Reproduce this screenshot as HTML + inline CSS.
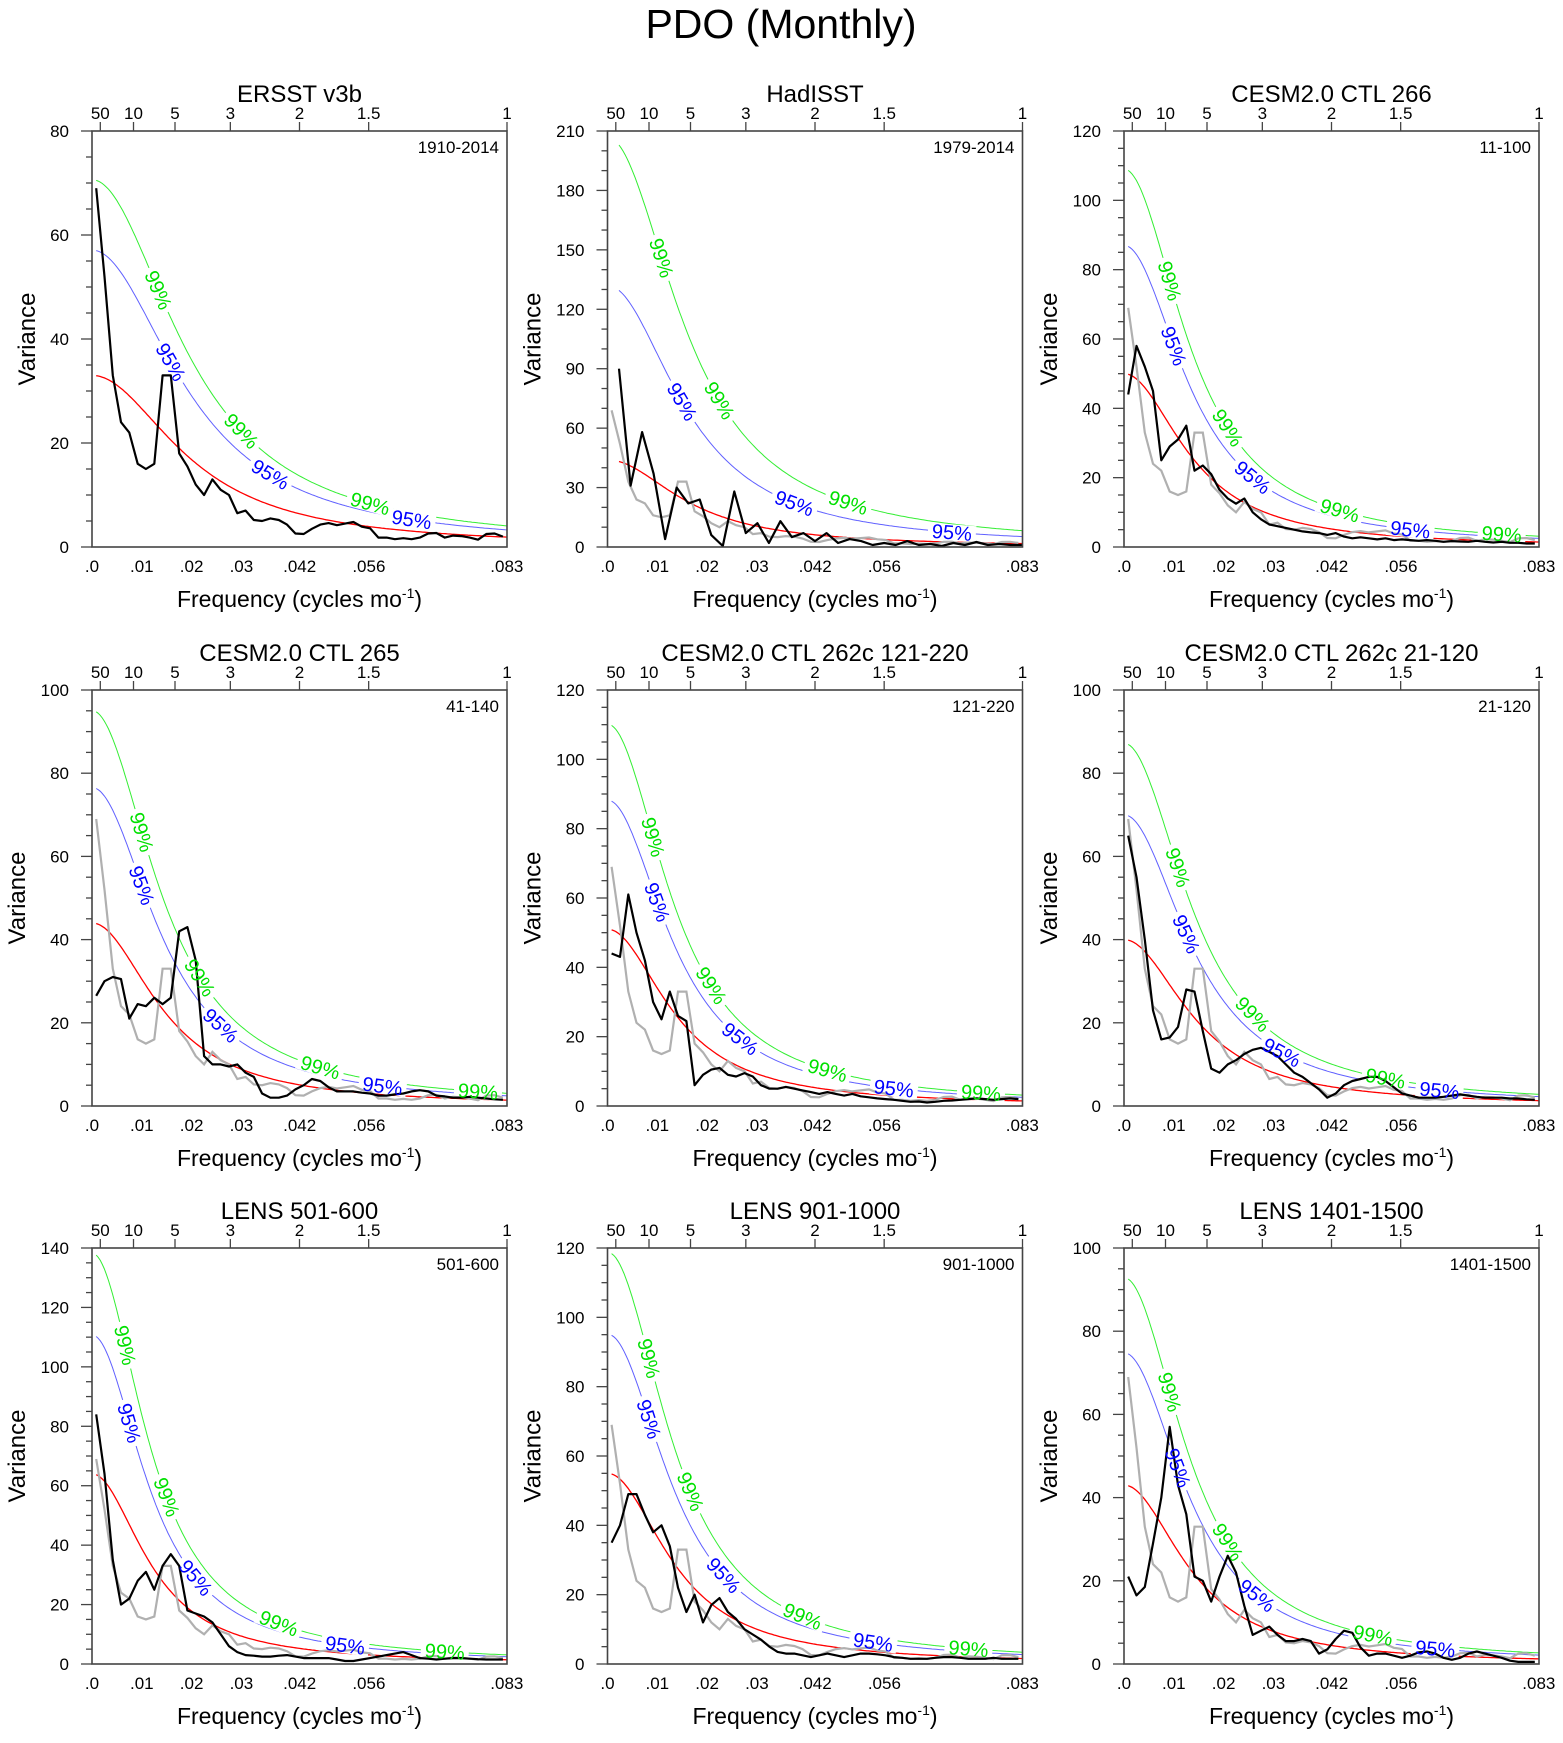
<!DOCTYPE html>
<html><head><meta charset="utf-8"><style>
html,body{margin:0;padding:0;background:#fff;}
svg text{font-family:"Liberation Sans",sans-serif;}
</style></head><body>
<svg id="fig" width="1563" height="1738" viewBox="0 0 1563 1738" xmlns="http://www.w3.org/2000/svg">
<rect width="1563" height="1738" fill="#fff"/>
<text x="781" y="38" font-size="41" text-anchor="middle">PDO (Monthly)</text>
</svg>
<script>
// ---------- data ----------
const panelTitles = ["ERSST v3b","HadISST","CESM2.0 CTL 266","CESM2.0 CTL 265","CESM2.0 CTL 262c 121-220","CESM2.0 CTL 262c 21-120","LENS 501-600","LENS 901-1000","LENS 1401-1500"];
const periodLabels = ["1910-2014","1979-2014","11-100","41-140","121-220","21-120","501-600","901-1000","1401-1500"];
const yMax = [80,210,120,100,120,100,140,120,100];
const yMajor = [20,30,20,20,20,20,20,20,20];
const yMinor = [5,10,5,5,5,5,5,5,5];
const redNoiseS0 = [33,44,50,44,51,40,64,55,43];
const redNoiseR = [0.88,0.9,0.915,0.91,0.915,0.91,0.925,0.915,0.915];
const mult95 = [1.73,3.0,1.74,1.74,1.73,1.75,1.73,1.73,1.74];
const mult99 = [2.14,4.7,2.18,2.16,2.16,2.18,2.16,2.16,2.16];
const xTickVals = [0,0.01,0.02,0.03,0.0417,0.0556,0.0833];
const xTickLabels = [".0",".01",".02",".03",".042",".056",".083"];
const topPeriods = [50,10,5,3,2,1.5,1];
const topPeriodLabels = ["50","10","5","3","2","1.5","1"];
const lab99 = [[.16,.36,.67],[.13,.27,.58],[.11,.25,.52,.91],[.12,.26,.55,.93],[.11,.25,.53,.9],[.13,.31,.63],[.08,.18,.45,.85],[.1,.2,.47,.87],[.11,.25,.6]];
const lab95 = [[.19,.43,.77],[.18,.45,.83],[.12,.31,.69],[.12,.31,.7],[.12,.32,.69],[.15,.38,.76],[.09,.25,.61],[.1,.28,.64],[.13,.32,.75]];
// spectra on 50-point frequency grid (cycles/mo), HadISST on 36-point grid
const ersst = [69,52,33,24,22,16,15,16,33,33,18,15.5,12,10,13,11,10,6.5,7,5.2,5,5.5,5.2,4.3,2.6,2.5,3.5,4.3,4.6,4.2,4.5,4.8,3.9,3.6,1.8,1.8,1.5,1.7,1.5,1.8,2.6,2.7,1.8,2.2,2.1,1.8,1.4,2.5,2.6,2.0];
const hadisst = [90,31,58,37,4,30,22,24,6,0.5,28,7,12,2,13,5,7,3,7,2,4,3,1,2,1,3,1,1.5,0.5,2,1,2.5,1,1.5,1,1];
const ctl266 = [44,58,52,45,25,29,31,35,22,23.5,21,16.5,14,12.5,14,10,8,6.5,6,5.5,5,4.5,4.2,4,3.5,4,3,2.5,2.8,2.5,2.2,2.5,2,2.2,2,1.8,2,1.8,1.5,1.7,1.6,1.5,1.8,1.5,1.3,1.5,1.2,1.2,1,1];
const ctl265 = [26.5,30,31,30.5,21,24.5,24,26,24.5,26,42,43,35,12,10,10,9.5,10,8,7,3,2,2,2.5,4,5,6.5,6,4.5,3.5,3.5,3.5,3.2,3,2.5,2.5,2.8,3,3.5,3.8,3.5,2.5,2.3,2,2,2.2,2,1.8,1.6,1.5];
const ctl262a = [44,43,61,50,42,30,25,33,26,24.5,6,9,10.5,11,9,8.5,9.5,8.5,6,5,5,5.5,5,4.5,4,3.5,4,3.5,3,3.5,2.8,2.5,2.2,2,1.8,1.5,1.2,1.3,1,1.2,1.5,1.6,1.8,2,2.2,2,1.8,2,2.2,2];
const ctl262b = [65,55,40,23,16,16.5,19,28,27.5,18,9,8,10,11,12.5,13.5,14,13,12,10,8,7,5.5,4,2,3,5,6,6.5,7,7,6,4.5,3,2.5,2,2,2,2.2,2.5,2.8,2.5,2.2,2,2,2,1.8,1.8,1.6,1.5];
const lens501 = [84,64,35,20,22,28,31,25,33,37,33,18,17,16,14,10,6,4,3,2.8,2.5,2.5,2.8,3,2.5,2,2,2,2,1.5,1,1,1.5,2,2.5,3,3.5,4,3,2,1.8,1.5,1.8,2,2,1.8,1.6,1.5,1.5,1.5];
const lens901 = [35,40,49,49,43,38,40,34,22,15,20,12,17,19,15,13,10,8.5,7,5,3.5,3,3,2.5,2,2.5,3,2.5,2,2.5,3,3,2.8,2.5,2,1.8,1.5,1.5,1.5,1.8,2,2,1.8,1.5,1.5,1.5,1.8,1.5,1.5,1.5];
const lens1401 = [21,16.5,18.5,29,40,57,43,36,21,20,15,21,26,22,14,7,8,9,7,5.5,5.5,6,5.5,2.5,3.5,6,8,7.5,4,2,2.5,2.5,2,1.5,2,2.8,3,2.5,1.5,1,1.5,2.5,3,2.5,2,1.5,0.8,0.5,0.5,0.5];
const blackSeries = [ersst,hadisst,ctl266,ctl265,ctl262a,ctl262b,lens501,lens901,lens1401];
const showGray = [false,true,true,true,true,true,true,true,true];

// ---------- drawing ----------
const NS="http://www.w3.org/2000/svg";
const svg=document.getElementById('fig');
const FMAX=1/12;
const colX=[92,607.5,1124], rowY=[131,690,1248], PW=415, PH=416;
function mk(tag,attrs,parent){const e=document.createElementNS(NS,tag);for(const k in attrs)e.setAttribute(k,attrs[k]);(parent||svg).appendChild(e);return e;}
function gridFreq(arr){
  const n=arr.length;
  if(n===36) return arr.map((v,i)=>(i+1)/432);
  return arr.map((v,i)=>(i+0.5)*FMAX/n);
}
function redAt(f,s0,r){return s0*(1-r)*(1-r)/(1-2*r*Math.cos(2*Math.PI*f)+r*r);}

for(let p=0;p<9;p++){
  const L=colX[p%3], T=rowY[Math.floor(p/3)], R=L+PW, B=T+PH;
  const xs=f=>L+f/FMAX*PW, ys=v=>B-v/yMax[p]*PH;
  const g=mk('g',{});
  
  
  const clipId='clip'+p;
  const cp=mk('clipPath',{id:clipId},g); mk('rect',{x:L,y:T,width:PW,height:PH},cp);
  const plot=mk('g',{'clip-path':'url(#'+clipId+')'},g);
  const f0 = p===1 ? 1/432 : 0.5*FMAX/50;
  const curves=[[1,'#ff0000',1.3,'red-noise-curve'],[mult95[p],'#6060ff',1,'sig95-curve'],[mult99[p],'#33ee33',1,'sig99-curve']];
  for(const [m,col,w,nm] of curves){
    let d='';
    for(let k=0;k<=200;k++){const f=f0+(FMAX-f0)*k/200;d+=(k?'L':'M')+xs(f).toFixed(1)+','+ys(m*redAt(f,redNoiseS0[p],redNoiseR[p])).toFixed(1);}
    const pa=mk('path',{d:d,fill:'none',stroke:col,'stroke-width':w},plot);
    
    
  }
  const labs=[[lab99[p],mult99[p],'99%','#00e000'],[lab95[p],mult95[p],'95%','#0000ff']];
  const labelPlacements=[];
  for(const [pos,m,txt,col] of labs){
    for(const fr0 of pos){
      const f=fr0*FMAX, x=xs(f), y=ys(m*redAt(f,redNoiseS0[p],redNoiseR[p]));
      const y2=ys(m*redAt(f+0.0005,redNoiseS0[p],redNoiseR[p])), x2=xs(f+0.0005);
      const ang=Math.atan2(y2-y,x2-x)*180/Math.PI;
      mk('rect',{x:-24,y:-8,width:48,height:16,fill:'#fff',transform:`translate(${x.toFixed(1)},${y.toFixed(1)}) rotate(${ang.toFixed(1)})`},plot);
      labelPlacements.push([x,y,ang,txt,col]);
    }
  }
  if(showGray[p]){
    const fr=gridFreq(ersst);
    const pa=mk('path',{d:ersst.map((v,i)=>(i?'L':'M')+xs(fr[i]).toFixed(1)+','+ys(v).toFixed(1)).join(''),fill:'none',stroke:'#b0b0b0','stroke-width':2.2},plot);
    
    
  }
  const ser=blackSeries[p], fr=gridFreq(ser);
  const bp=mk('path',{d:ser.map((v,i)=>(i?'L':'M')+xs(fr[i]).toFixed(1)+','+ys(v).toFixed(1)).join(''),fill:'none',stroke:'#000','stroke-width':2.2,'stroke-linejoin':'round'},plot);
  
  
  for(const [x,y,ang,txt,col] of labelPlacements){
    const t=mk('text',{x:0,y:7,'font-size':20,'text-anchor':'middle',fill:col,transform:`translate(${x.toFixed(1)},${y.toFixed(1)}) rotate(${ang.toFixed(1)})`},plot);
    t.textContent=txt;
    
    
  }
  const fr2=mk('rect',{x:L,y:T,width:PW,height:PH,fill:'none',stroke:'#444','stroke-width':1.6},g);
  
  
  for(let v=0;v<=yMax[p]+1e-9;v+=yMinor[p]){
    const major=Math.abs(v/yMajor[p]-Math.round(v/yMajor[p]))<1e-6;
    mk('line',{x1:L-(major?11:6),x2:L,y1:ys(v),y2:ys(v),stroke:'#444','stroke-width':1.3},g);
    if(major){const t=mk('text',{x:L-23,y:ys(v)+6,'font-size':17,'text-anchor':'end'},g);t.textContent=String(v);
      
      }
  }
  xTickVals.forEach((f,i)=>{const t=mk('text',{x:xs(f),y:B+25,'font-size':17,'text-anchor':'middle'},g);t.textContent=xTickLabels[i];
    
    });
  topPeriods.forEach((P,i)=>{const x=xs(1/(12*P));
    mk('line',{x1:x,x2:x,y1:T,y2:T-9,stroke:'#444','stroke-width':1.3},g);
    const t=mk('text',{x:x,y:T-12,'font-size':17,'text-anchor':'middle'},g);t.textContent=topPeriodLabels[i];
    
    });
  const tt=mk('text',{x:L+PW/2,y:T-29,'font-size':24,'text-anchor':'middle'},g);tt.textContent=panelTitles[p];
  
  
  const cl=mk('text',{x:R-8,y:T+22,'font-size':17,'text-anchor':'end'},g);cl.textContent=periodLabels[p];
  
  
  const xt=mk('text',{x:L+PW/2,y:B+60,'font-size':23,'text-anchor':'middle'},g);
  xt.innerHTML='Frequency (cycles mo<tspan font-size="14" dy="-9">-1</tspan><tspan dy="9">)</tspan>';
  
  
  const off=yMax[p]>=100?75:65;
  const yt=mk('text',{x:0,y:0,'font-size':24,'text-anchor':'middle',transform:`translate(${L-off+8},${T+PH/2}) rotate(-90)`},g);
  yt.textContent='Variance';
  
  
}
</script>
</body></html>
